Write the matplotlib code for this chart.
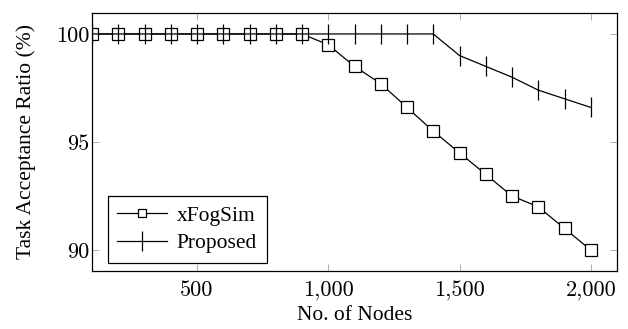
import matplotlib
matplotlib.use('Agg')
import matplotlib.pyplot as plt
from matplotlib.ticker import FuncFormatter

nodes = [100, 200, 300, 400, 500, 600, 700, 800, 900, 1000,
         1100, 1200, 1300, 1400, 1500, 1600, 1700, 1800, 1900, 2000]
xfogsim = [100, 100, 100, 100, 100, 100, 100, 100, 100, 99.5,
           98.5, 97.7, 96.6, 95.5, 94.5, 93.5, 92.5, 92.0, 91.0, 90.0]
proposed = [100, 100, 100, 100, 100, 100, 100, 100, 100, 100,
            100, 100, 100, 100, 99.0, 98.5, 98.0, 97.4, 97.0, 96.6]

# times for text, computer modern digits for the ticks (latex look)
plt.rcParams['font.family'] = ['Liberation Serif', 'DejaVu Serif']
TXT = 15.5
TICK = 16

fig = plt.figure(figsize=(6.28, 3.29), dpi=100)
ax = fig.add_axes([0.1465, 0.1763, 0.836, 0.7842])

ax.plot(nodes, xfogsim, color='black', linewidth=0.9, marker='s', markersize=8,
        markerfacecolor='white', markeredgecolor='black', markeredgewidth=0.9,
        label='xFogSim')
ax.plot(nodes, proposed, color='black', linewidth=0.9, marker='|', markersize=15,
        markeredgewidth=0.9, label='Proposed')

ax.set_xlim(100, 2100)
ax.set_ylim(89.03, 100.97)
ax.set_xticks([500, 1000, 1500, 2000])
ax.set_yticks([90, 95, 100])
ax.xaxis.set_major_formatter(FuncFormatter(lambda v, p: f'{int(v):,}'))
ax.yaxis.set_major_formatter(FuncFormatter(lambda v, p: f'{int(v)}'))
for lab in ax.get_xticklabels() + ax.get_yticklabels():
    lab.set_family('cmr10')
    lab.set_fontsize(TICK)

ax.tick_params(direction='in', length=5, width=0.6, color='#a0a0a0',
               top=True, right=True)
ax.tick_params(axis='x', pad=7)
ax.tick_params(axis='y', pad=2)
for s in ax.spines.values():
    s.set_linewidth(0.9)
    s.set_color('black')

ax.set_xlabel('No. of Nodes', fontsize=TXT, labelpad=4)
ax.set_ylabel('Task Acceptance Ratio (%)', fontsize=TXT, labelpad=14)

leg = ax.legend(loc='lower left', bbox_to_anchor=(0.03, 0.031), borderaxespad=0,
                fontsize=TXT, frameon=True, fancybox=False, edgecolor='black',
                framealpha=1, handlelength=2.3, borderpad=0.45, labelspacing=0.35,
                handletextpad=0.45)
leg.get_frame().set_linewidth(0.9)
leg.legend_handles[0].set_markersize(6)

fig.savefig('out.png', dpi=100)
